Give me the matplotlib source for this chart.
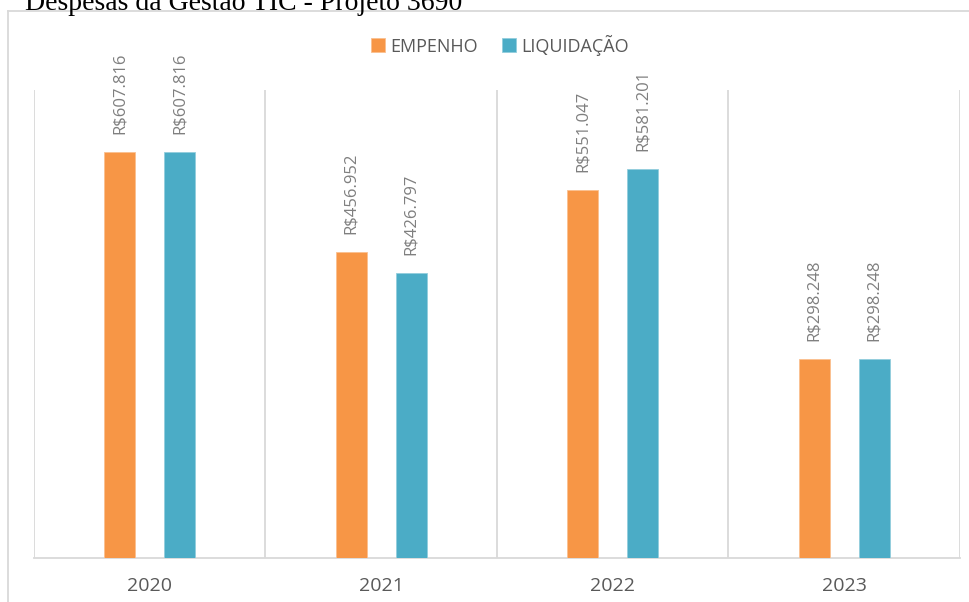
import matplotlib
matplotlib.use("Agg")
import matplotlib.pyplot as plt
from matplotlib.lines import Line2D
import numpy as np

years = ["2020", "2021", "2022", "2023"]
empenho = [607.816, 456.952, 551.047, 298.248]
liquidacao = [607.816, 426.797, 581.201, 298.248]
labels_emp = ["R$607.816", "R$456.952", "R$551.047", "R$298.248"]
labels_liq = ["R$607.816", "R$426.797", "R$581.201", "R$298.248"]
series_names = ["EMPENHO", "LIQUIDAÇÃO"]
title = "Despesas da Gestão TIC - Projeto 3690"

ORANGE = "#F79646"
TEAL = "#4BACC6"
TXT = "#595959"
LBL = "#7F7F7F"
GRID = "#D9D9D9"

plt.rcParams['font.family'] = ['Open Sans', 'DejaVu Sans']

W, H = 970, 602
fig = plt.figure(figsize=(W / 100, H / 100), dpi=100)
ax = fig.add_axes([34 / W, 1 - 558 / H, 926 / W, 468 / H])

x = np.arange(len(years))
off = 0.13
bw = 0.134
b1 = ax.bar(x - off, empenho, bw, color=ORANGE, edgecolor="#FAC090", linewidth=0.6, zorder=3)
b2 = ax.bar(x + off, liquidacao, bw, color=TEAL, edgecolor="#93CDDD", linewidth=0.6, zorder=3)

for rect, lab in zip(b1, labels_emp):
    ax.annotate(lab, (rect.get_x() + rect.get_width() / 2, rect.get_height()),
                xytext=(0, 13), textcoords="offset points", rotation=90,
                ha="center", va="bottom", fontsize=12, color=LBL)
for rect, lab in zip(b2, labels_liq):
    ax.annotate(lab, (rect.get_x() + rect.get_width() / 2, rect.get_height()),
                xytext=(0, 13), textcoords="offset points", rotation=90,
                ha="center", va="bottom", fontsize=12, color=LBL)

ax.set_xlim(-0.5, len(years) - 0.5)
ax.set_ylim(0, 700)
for b in np.arange(-0.5, len(years), 1.0):
    ax.axvline(b, color=GRID, linewidth=1.3, zorder=1)

ax.set_xticks(x)
ax.set_xticklabels(years, fontsize=14, color=TXT)
ax.tick_params(axis="x", length=0, pad=14)
ax.set_yticks([])
for s in ["top", "right", "left"]:
    ax.spines[s].set_visible(False)
ax.spines["bottom"].set_color(GRID)
ax.spines["bottom"].set_linewidth(1.3)

leg = fig.legend([b1, b2], series_names, loc="center", bbox_to_anchor=(500 / W, 1 - 45 / H),
                 ncol=2, frameon=False, fontsize=13, handlelength=0.8, handleheight=0.8,
                 handletextpad=0.3, columnspacing=1.3, labelcolor=TXT)

# outer chart frame (cropped)
fig.add_artist(Line2D([8.5 / W, 8.5 / W], [0, 1 - 11 / H], color=GRID, linewidth=1.3,
                      transform=fig.transFigure))
fig.add_artist(Line2D([8.5 / W, 1], [1 - 11 / H, 1 - 11 / H], color=GRID, linewidth=1.3,
                      transform=fig.transFigure))

fig.text(25 / W, 1 - 10 / H, title, family=["Liberation Serif", "DejaVu Serif"],
         fontsize=20, color="black", ha="left", va="baseline")

fig.savefig("out.png", dpi=100)
